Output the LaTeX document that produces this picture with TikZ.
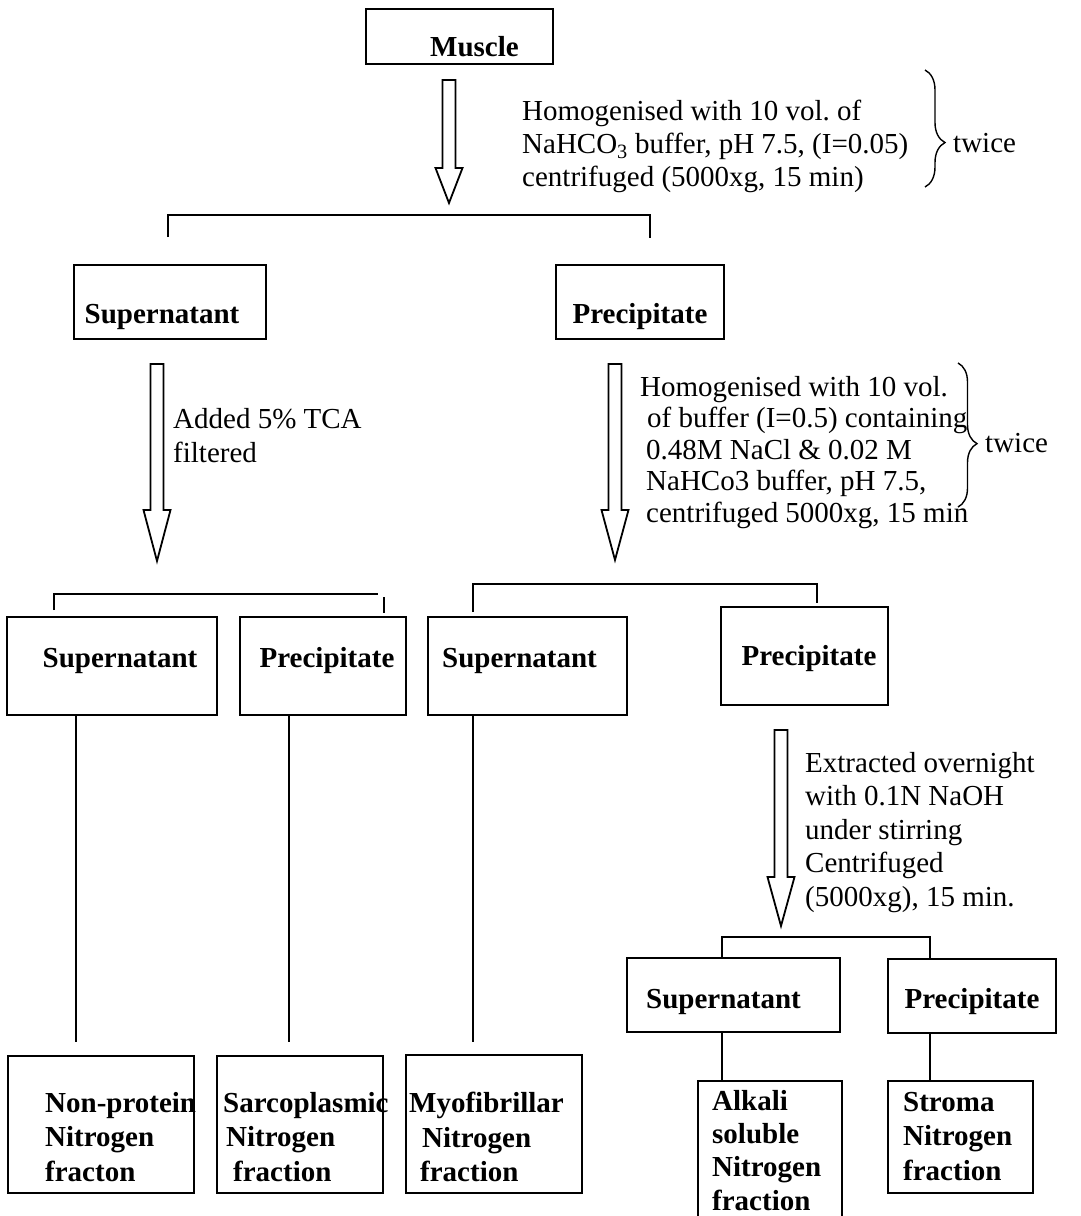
\documentclass[tikz,border=0pt]{standalone}
\usepackage{fontspec}
\setmainfont{Liberation Serif}
\usetikzlibrary{calc,decorations.pathreplacing}
\frenchspacing
\newcommand{\hollowdown}[3]{%
  \draw[harrow] ($(#1)+(-6.5,0)$) -- ($(#2)+(-6.5,-#3)$) -- ($(#2)+(-13.5,-#3)$) -- (#2)
    -- ($(#2)+(13.5,-#3)$) -- ($(#2)+(6.5,-#3)$) -- ($(#1)+(6.5,0)$) -- cycle;}
\begin{document}
\frenchspacing
\begin{tikzpicture}[x=1pt,y=-1pt,
  bx/.style={draw, line width=2pt, inner sep=0pt, font=\bfseries\fontsize{29}{34}\selectfont},
  ebx/.style={draw, line width=2pt, inner sep=0pt},
  conn/.style={line width=1.6pt},
  harrow/.style={draw, line width=1.8pt, line join=miter, fill=white},
  txt/.style={inner sep=0pt, align=left, anchor=north west},
  btxt/.style={inner sep=0pt, align=left, anchor=north west, font=\bfseries\fontsize{29}{34.5}\selectfont},
  brc/.style={decorate, line width=1.4pt},
  tw/.style={inner sep=0pt, anchor=base west, font=\fontsize{29}{33}\selectfont}
]
\fill[white] (0,0) rectangle (1080,1216);
\useasboundingbox (0,0) rectangle (1080,1216);

% ---------- boxes ----------
\node[bx, minimum width=187pt, text height=47pt, text depth=8pt] (mus) at (459.5,36.5) {\hspace*{30pt}Muscle};
\node[bx, minimum width=192pt, text height=58pt, text depth=16pt] (sup1) at (170,302) {Supernatant\hspace*{16pt}};
\node[bx, minimum width=168pt, text height=58pt, text depth=16pt] (pre1) at (640,302) {Precipitate};
\node[bx, minimum width=210pt, text height=50pt, text depth=48pt] (sup2) at (112,666) {\hspace*{16pt}Supernatant};
\node[bx, minimum width=166pt, text height=50pt, text depth=48pt] (pre2) at (323,666) {\hspace*{8pt}Precipitate};
\node[bx, minimum width=199pt, text height=50pt, text depth=48pt] (sup3) at (527.5,666) {Supernatant\hspace*{16pt}};
\node[bx, minimum width=167pt, text height=58pt, text depth=40pt] (pre4) at (804.5,656) {\hspace*{9pt}Precipitate};
\node[bx, minimum width=213pt, text height=50pt, text depth=24pt] (sup5) at (733.5,995) {Supernatant\hspace*{20pt}};
\node[bx, minimum width=168pt, text height=49pt, text depth=25pt] (pre5) at (972,996) {Precipitate};

\node[ebx, minimum width=186pt, minimum height=137pt] (npn) at (101,1124.5) {};
\node[ebx, minimum width=166pt, minimum height=137pt] (sar) at (300,1124.5) {};
\node[ebx, minimum width=176pt, minimum height=138pt] (myo) at (494,1124) {};
\begin{scope}
\clip (0,0) rectangle (1080,1216);
\node[ebx, minimum width=144pt, minimum height=144pt] (alk) at (770,1153) {};
\end{scope}
\node[ebx, minimum width=145pt, minimum height=112pt] (str) at (960.5,1137) {};

% ---------- texts in bottom boxes ----------
\node[btxt] (tnpn) at (45,1092) {Non-protein\\Nitrogen\\fracton};
\node[btxt] (tsar) at (223,1092) {Sarcoplasmic\\\hspace*{3pt}Nitrogen\\\hspace*{10pt}fraction};
\node[btxt] (tmyo) at (409,1092) {Myofibrillar\\\hspace*{13pt}Nitrogen\\\hspace*{11pt}fraction};
\node[btxt, font=\bfseries\fontsize{29}{33.3}\selectfont] (talk) at (712,1090) {Alkali\\soluble\\Nitrogen\\fraction};
\node[btxt] (tstr) at (903,1092) {Stroma\\Nitrogen\\fraction};

% ---------- procedure texts ----------
\node[txt, font=\fontsize{29}{33}\selectfont] (p1) at (522,100)
  {Homogenised with 10 vol. of\\NaHCO\textsubscript{3} buffer, pH 7.5, (I=0.05)\\centrifuged (5000xg, 15 min)};
\node[tw] (tw1) at (953,152) {twice};
\node[txt, font=\fontsize{29}{34}\selectfont] (p2) at (173,408) {Added 5\% TCA\\filtered};
\node[txt, font=\fontsize{29}{31.5}\selectfont] (p3) at (640,376)
  {Homogenised with 10 vol.\\\hspace*{7pt}of buffer (I=0.5) containing\\\hspace*{6pt}0.48M NaCl \& 0.02 M\\\hspace*{6pt}NaHCo3 buffer, pH 7.5,\\\hspace*{6pt}centrifuged 5000xg, 15 min};
\node[tw] (tw2) at (985,452) {twice};
\node[txt, font=\fontsize{29}{33.5}\selectfont] (p4) at (805,752)
  {Extracted overnight\\with 0.1N NaOH\\under stirring\\Centrifuged\\(5000xg), 15 min.};

% ---------- braces ----------
\coordinate (br1a) at (925,70);
\coordinate (br1b) at (925,187);
\draw[brc, decoration={brace, amplitude=20pt, aspect=0.62}] (br1a) -- (br1b);
\coordinate (br2a) at (958,363);
\coordinate (br2b) at (958,507);
\draw[brc, decoration={brace, amplitude=19pt, aspect=0.56}] (br2a) -- (br2b);

% ---------- hollow arrows ----------
\coordinate (a1s) at (449,80);  \coordinate (a1t) at (449,203);
\coordinate (a2s) at (157,364); \coordinate (a2t) at (157,561);
\coordinate (a3s) at (615,364); \coordinate (a3t) at (615,560);
\coordinate (a4s) at (781,730); \coordinate (a4t) at (781,926);
\hollowdown{a1s}{a1t}{35}
\hollowdown{a2s}{a2t}{51}
\hollowdown{a3s}{a3t}{50}
\hollowdown{a4s}{a4t}{49}

% ---------- brackets ----------
\coordinate (b1l) at (168,237); \coordinate (b1r) at (650,238);
\draw[conn] (b1l) -- ++(0,-22) -| (b1r);
\coordinate (b2l) at (54,610); \coordinate (b2e) at (378,594);
\draw[conn] (b2l) |- (b2e);
\coordinate (b2ta) at (384,597); \coordinate (b2tb) at (384,613);
\draw[conn] (b2ta) -- (b2tb);
\coordinate (b3l) at (473,612); \coordinate (b3r) at (817,603);
\draw[conn] (b3l) -- ++(0,-28) -| (b3r);
\coordinate (b4l) at (722,958); \coordinate (b4r) at (930,959);
\draw[conn] (b4l) -- ++(0,-21) -| (b4r);

% ---------- vertical connectors ----------
\coordinate (e1) at (76,1042);
\coordinate (e2) at (289,1042);
\coordinate (e3) at (473,1042);
\draw[conn] (sup2.south -| e1) -- (e1);
\draw[conn] (pre2.south -| e2) -- (e2);
\draw[conn] (sup3.south -| e3) -- (e3);
\draw[conn] (sup5.south -| b4l) -- (alk.north -| b4l);
\draw[conn] (pre5.south -| b4r) -- (str.north -| b4r);
\end{tikzpicture}
\end{document}
